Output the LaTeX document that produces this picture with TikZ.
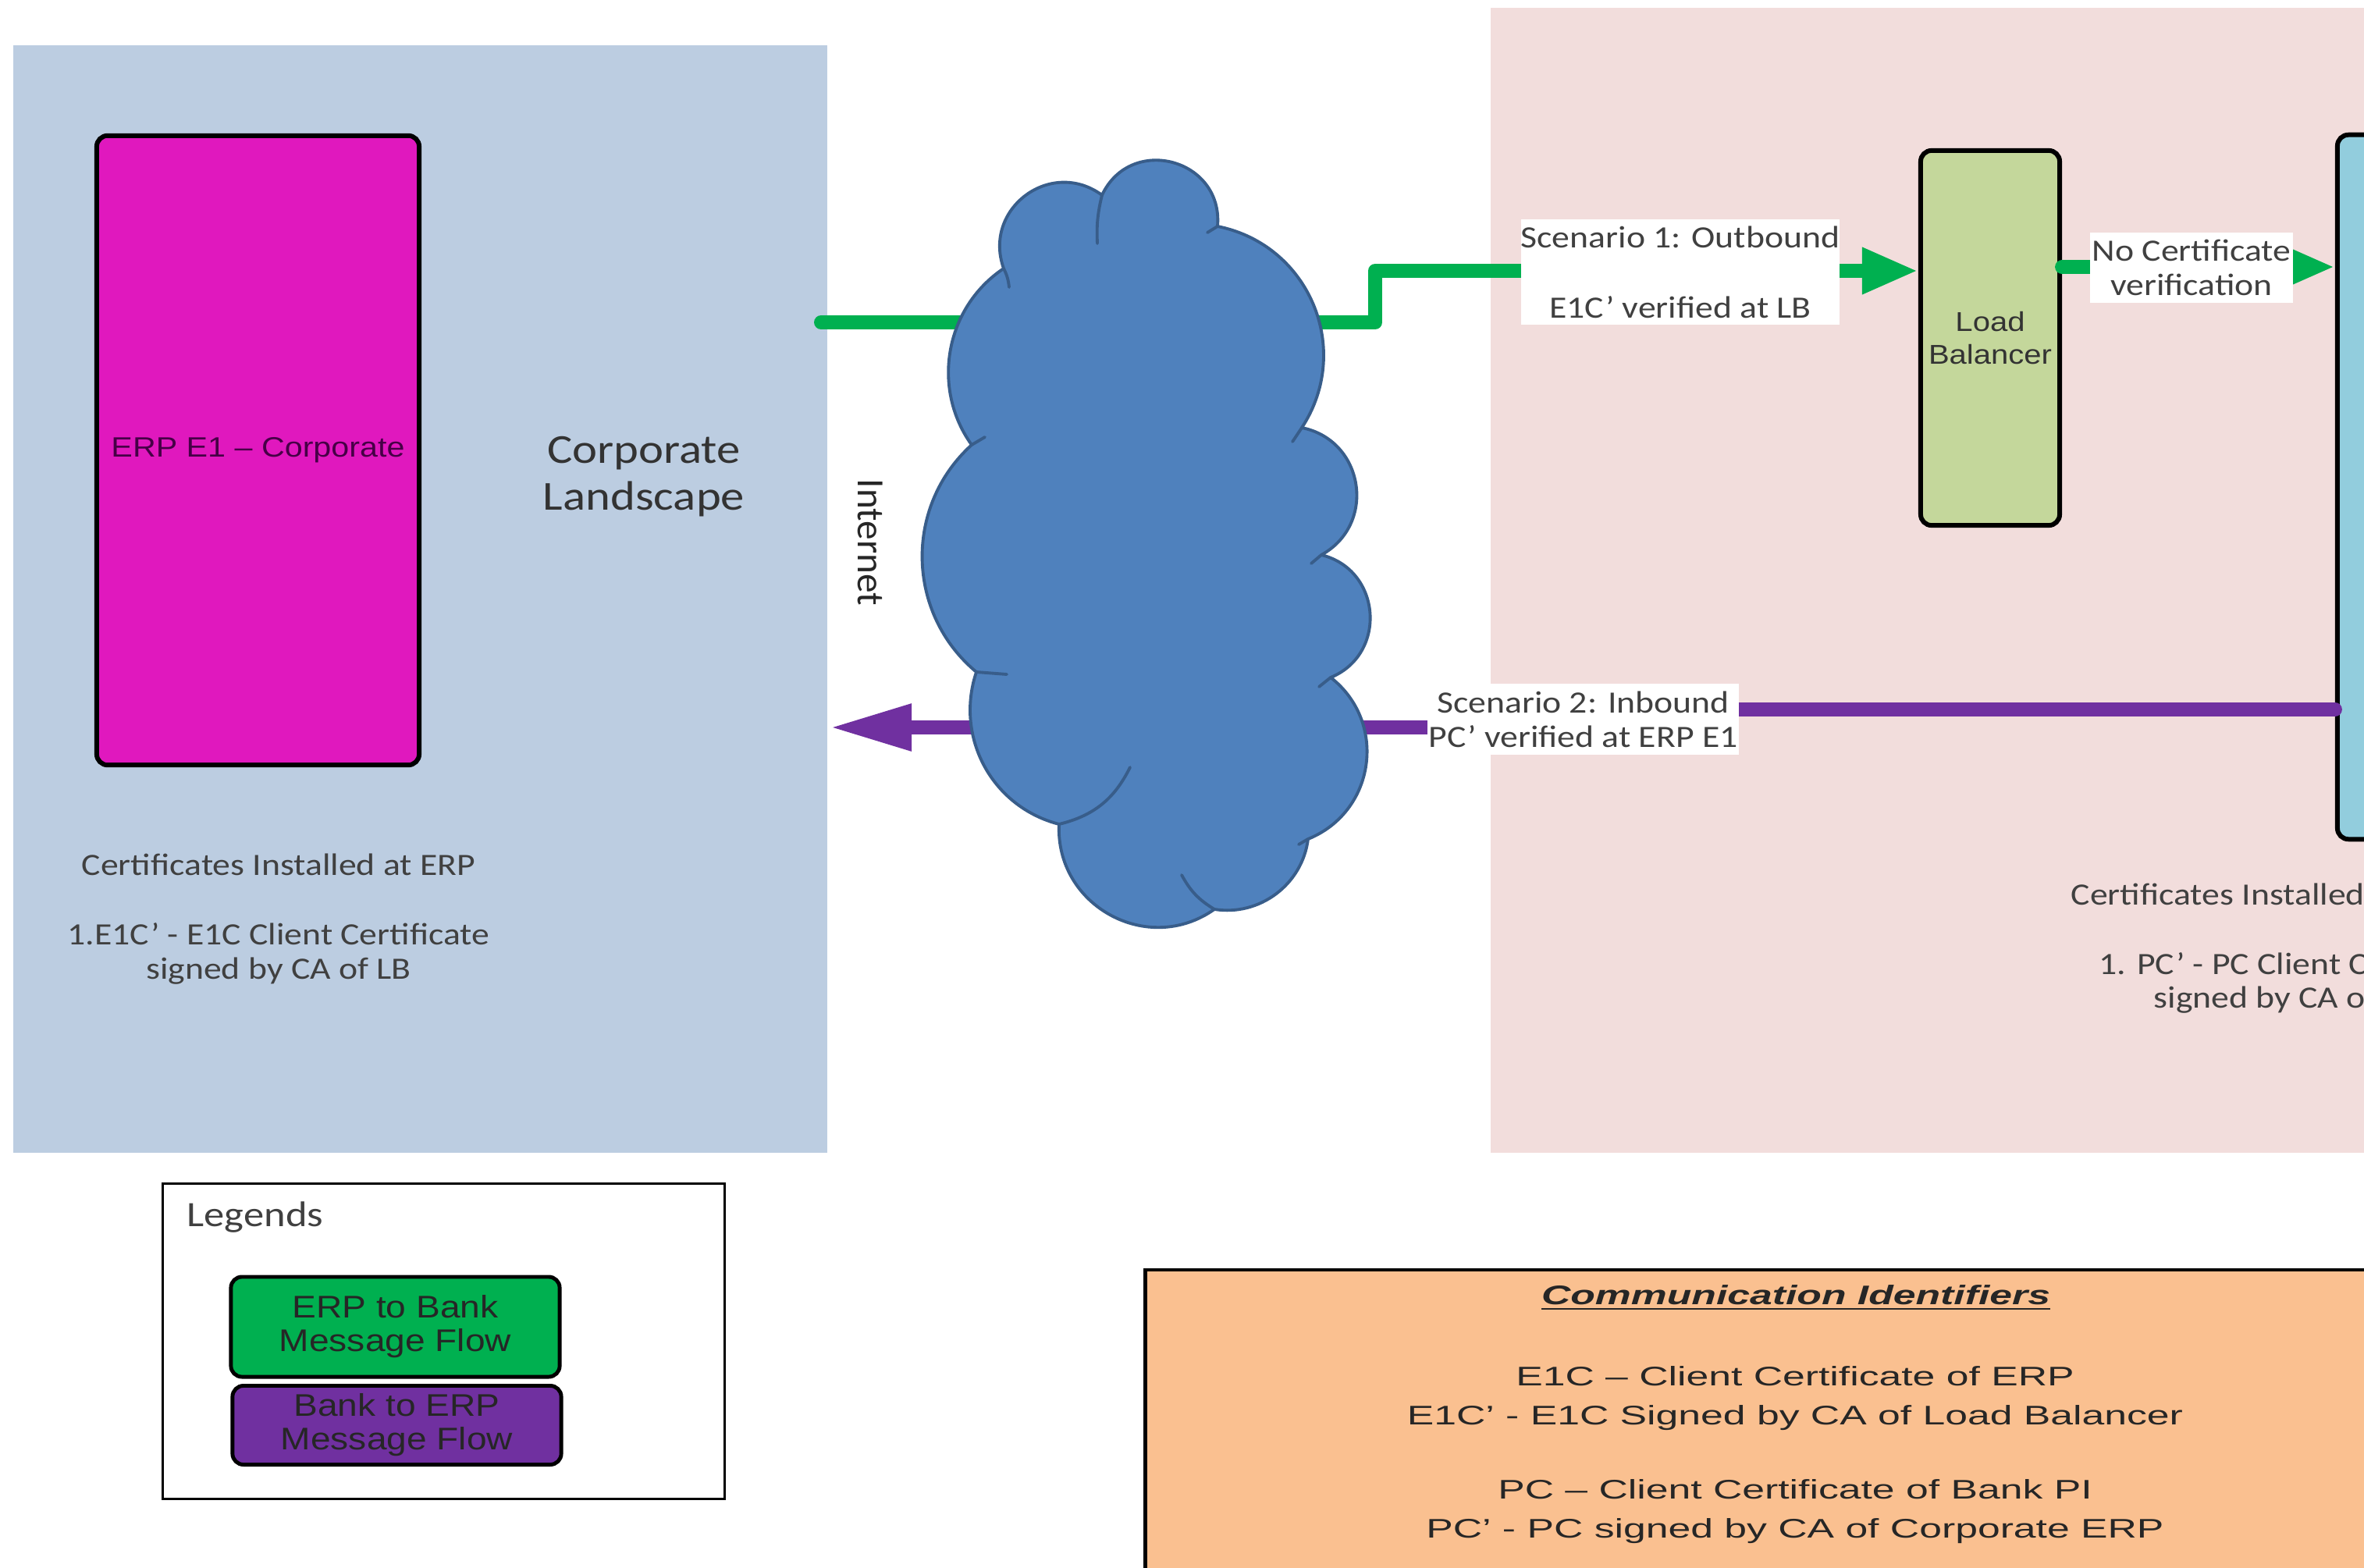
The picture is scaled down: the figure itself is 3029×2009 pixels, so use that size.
\documentclass[tikz,border=0pt]{standalone}
\usepackage{fontspec}
\usetikzlibrary{arrows.meta}
\newfontfamily\calw[FakeStretch=1.15]{Carlito}
\newfontfamily\calr{Carlito}
\newfontfamily\ariw[FakeStretch=1.15]{Liberation Sans}
\newfontfamily\aric[FakeStretch=1.5]{Liberation Sans}
\definecolor{bluebg}{RGB}{188,205,225}
\definecolor{pinkbg}{RGB}{242,221,220}
\definecolor{erpmag}{RGB}{224,24,190}
\definecolor{erptxt}{RGB}{70,0,70}
\definecolor{lbgreen}{RGB}{196,215,155}
\definecolor{bankcyan}{RGB}{146,205,221}
\definecolor{flowgreen}{RGB}{0,176,80}
\definecolor{flowpurple}{RGB}{112,48,160}
\definecolor{cloudfill}{RGB}{79,129,189}
\definecolor{cloudedge}{RGB}{56,93,138}
\definecolor{commfill}{RGB}{250,192,144}
\definecolor{txtgray}{RGB}{64,64,64}
\begin{document}
\begin{tikzpicture}[x=0.01cm,y=0.01cm,
  region/.style={inner sep=0pt, draw=none},
  sysbox/.style={draw=black, line width=1.7pt, rounded corners=4pt, inner sep=0pt},
  lbl/.style={fill=white, inner sep=0pt, font=\calw\fontsize{11.3}{12.6}\selectfont, text=txtgray, align=center},
  plaintxt/.style={inner sep=0pt, font=\calw\fontsize{11.3}{12.6}\selectfont, text=txtgray, align=center},
  gline/.style={draw=flowgreen, line width=5.1pt, line cap=round, line join=round},
  pline/.style={draw=flowpurple, line width=5.1pt, line cap=round, line join=round},
  gtip/.style={-{Triangle[length=0.72cm,width=0.55cm]}},
  ptip/.style={-{Triangle[length=1.05cm,width=0.56cm]}},
  cloudst/.style={draw=cloudedge, fill=cloudfill, line width=1.1pt, line join=round},
  crease/.style={draw=cloudedge, line width=1.1pt, line cap=round},
  legbox/.style={draw=black, line width=1.4pt, rounded corners=4pt, inner sep=0pt, align=center, font=\ariw\fontsize{11.4}{12.2}\selectfont}
]
\useasboundingbox (0,0) rectangle (3029,-2009);
\fill[white] (0,0) rectangle (3029,-2009);
\clip (0,0) rectangle (3029,-2009);

% landscapes
\node[region, fill=bluebg, minimum width=10.43cm, minimum height=14.19cm] (corp) at (538.5,-767.5) {};
\node[region, fill=pinkbg, minimum width=11.3cm, minimum height=14.67cm] (bankland) at (2475,-743.5) {};

% ERP box
\node[sysbox, fill=erpmag, minimum width=4.13cm, minimum height=8.06cm,
      font=\ariw\fontsize{10.2}{12}\selectfont, text=erptxt] (erp) at (330.5,-577) {ERP E1 – Corporate};

\node[inner sep=0pt, align=center, font=\calw\fontsize{15}{17}\selectfont, text=black!80] (corplbl) at (825,-611) {Corporate\\Landscape};

% load balancer and bank box
\node[sysbox, fill=lbgreen, minimum width=1.78cm, minimum height=4.80cm, align=center,
      font=\ariw\fontsize{9.9}{11.7}\selectfont, text=black!80] (lb) at (2550,-433) {Load\\Balancer};
\node[sysbox, fill=bankcyan, minimum width=2cm, minimum height=9.02cm] (bank) at (3095,-624) {};

% connectors
\coordinate (g0) at (1052,-413);
\coordinate (p1) at (1063,-932);
\draw[gline, gtip] (g0) -- (1762,-413) -- (1762,-347) -- (lb.west |- 0,-347);
\draw[gline, gtip] (lb.east |- 0,-342) -- (bank.west |- 0,-342);
\draw[pline, ptip] (bank.west |- 0,-909) -- (2100,-909) -- (2100,-932) -- (p1);

% cloud
\draw[cloudst] (1245,-570)
  to[bend left=46,looseness=1.0]  (1286,-344)
  to[bend left=73,looseness=1.32] (1412,-250)
  to[bend left=80,looseness=1.45] (1560,-290)
  to[bend left=56,looseness=1.10] (1668,-548)
  to[bend left=70,looseness=1.27] (1693,-711)
  to[bend left=72,looseness=1.29] (1705,-868)
  to[bend left=60,looseness=1.14] (1676,-1075)
  to[bend left=46,looseness=1.0]  (1556,-1165)
  to[bend left=64,looseness=1.18] (1357,-1056)
  to[bend left=47,looseness=1.02] (1251,-861)
  to[bend left=49,looseness=1.03] (1245,-570) -- cycle;
\draw[crease] (1286,-344) to[bend left=10] (1293,-368);
\draw[crease] (1412,-250) to[bend right=8] (1406,-312);
\draw[crease] (1560,-290) -- (1547,-298);
\draw[crease] (1668,-548) -- (1656,-566);
\draw[crease] (1693,-711) -- (1680,-722);
\draw[crease] (1705,-868) -- (1690,-880);
\draw[crease] (1676,-1075) -- (1664,-1082);
\draw[crease] (1556,-1165) to[bend left=15] (1514,-1121);
\draw[crease] (1357,-1056) to[bend right=25] (1448,-983);
\draw[crease] (1251,-861) -- (1290,-864);
\draw[crease] (1245,-570) -- (1262,-560);

\node[inner sep=0pt, rotate=-90, font=\calr\fontsize{14}{16}\selectfont, text=black!85] (inet) at (1115,-695) {Internet};

% labels on connectors
\node[lbl, minimum width=4.08cm, minimum height=1.35cm] (s1) at (2153,-348.5) {Scenario 1: Outbound\\[13pt]E1C’ verified at LB};
\node[lbl, minimum width=2.6cm, minimum height=0.9cm] (s2) at (2808,-343) {No Certificate\\verification};
\node[lbl, minimum width=3.99cm, minimum height=0.91cm, font=\calw\fontsize{11.3}{12.5}\selectfont] (s3) at (2028.5,-921.5) {Scenario 2: Inbound\\PC’ verified at ERP E1};

% certificate texts
\node[plaintxt] (certerp) at (357,-1178) {Certificates Installed at ERP\\[12.6pt]1.E1C’ - E1C Client Certificate\\signed by CA of LB};
\node[plaintxt, anchor=west] (certbank1) at (2653,-1146) {Certificates Installed};
\node[plaintxt, anchor=west] (certbank2) at (2689,-1235) {1. PC’ - PC Client C};
\node[plaintxt, anchor=west] (certbank3) at (2759,-1281) {signed by CA o};

% legend
\node[draw=black, line width=0.9pt, inner sep=0pt, minimum width=7.19cm, minimum height=4.03cm] (legend) at (568.5,-1718.5) {};
\node[inner sep=0pt, anchor=west, font=\calw\fontsize{13}{15}\selectfont, text=txtgray] (legtitle) at (239,-1560) {Legends};
\node[legbox, fill=flowgreen, text=black!85, minimum width=4.21cm, minimum height=1.28cm] (leggreen) at (506.5,-1700) {ERP to Bank\\Message Flow};
\node[legbox, fill=flowpurple, text=black!85, minimum width=4.21cm, minimum height=1.01cm] (legpurple) at (508.5,-1826) {Bank to ERP\\Message Flow};

% communication identifiers
\node[draw=black, line width=1.2pt, fill=commfill, inner sep=0pt, minimum width=16.32cm, minimum height=4.73cm] (comm) at (2284,-1863.5) {};
\node[inner sep=0pt, font=\aric\bfseries\itshape\fontsize{9.8}{12}\selectfont, text=black!85] (commtitle) at (2301,-1663) {\underline{Communication Identifiers}};
\node[inner sep=0pt, align=center, font=\aric\fontsize{9.8}{14.2}\selectfont, text=black!85] (commtext) at (2300,-1864) {E1C – Client Certificate of ERP\\E1C’ - E1C Signed by CA of Load Balancer\\[12.8pt]PC – Client Certificate of Bank PI\\PC’ - PC signed by CA of Corporate ERP};
\end{tikzpicture}
\end{document}
